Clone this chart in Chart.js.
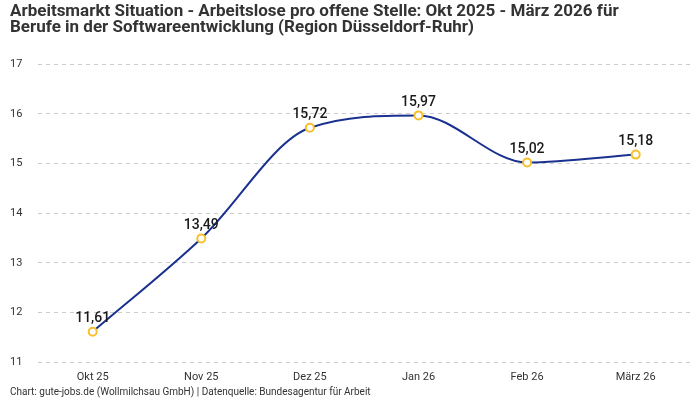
<!DOCTYPE html>
<html>
<head>
<meta charset="utf-8">
<script src="https://cdn.jsdelivr.net/npm/chart.js@4/dist/chart.umd.min.js"></script>
<style>
  html, body { margin: 0; padding: 0; background: #fff; }
  #wrap { width: 700px; height: 400px; }
</style>
</head>
<body>
<div id="wrap"><canvas id="arbeitsmarktChart"></canvas></div>
<script>
const months = ['Okt 25', 'Nov 25', 'Dez 25', 'Jan 26', 'Feb 26', 'März 26'];
const arbeitslosePerStelle = [11.61, 13.49, 15.72, 15.97, 15.02, 15.18];
const yTicks = [11, 12, 13, 14, 15, 16, 17];

const fontFamily = 'Roboto, "Noto Sans", sans-serif';

// draws the value above every point (German decimal comma)
const valueLabels = {
  id: 'valueLabels',
  afterDatasetsDraw(chart) {
    const ctx = chart.ctx;
    const meta = chart.getDatasetMeta(0);
    ctx.save();
    ctx.font = '500 14px ' + fontFamily;
    ctx.fillStyle = '#1a1a1a';
    ctx.textAlign = 'center';
    ctx.textBaseline = 'bottom';
    meta.data.forEach((pt, i) => {
      const txt = arbeitslosePerStelle[i].toFixed(2).replace('.', ',');
      ctx.fillText(txt, pt.x, pt.y - 6);
    });
    ctx.restore();
  }
};

new Chart(document.getElementById('arbeitsmarktChart'), {
  type: 'line',
  data: {
    labels: months,
    datasets: [{
      data: arbeitslosePerStelle,
      borderColor: '#1b3190',
      borderWidth: 2,
      cubicInterpolationMode: 'monotone',
      pointBackgroundColor: '#ffffff',
      pointBorderColor: '#f6c02c',
      pointBorderWidth: 2,
      pointRadius: 4,
      fill: false
    }]
  },
  options: {
    responsive: true,
    maintainAspectRatio: false,
    animation: false,
    layout: { padding: { left: 10, right: 10, top: 0, bottom: 3 } },
    plugins: {
      legend: { display: false },
      tooltip: { enabled: false },
      title: {
        display: true,
        align: 'start',
        text: ['Arbeitsmarkt Situation - Arbeitslose pro offene Stelle: Okt 2025 - März 2026 für',
               'Berufe in der Softwareentwicklung (Region Düsseldorf-Ruhr)'],
        color: '#333333',
        font: { family: fontFamily, size: 17, weight: 'bold', lineHeight: 0.95 },
        padding: { top: 4, bottom: 28 }
      },
      subtitle: {
        display: true,
        position: 'bottom',
        align: 'start',
        text: 'Chart: gute-jobs.de (Wollmilchsau GmbH) | Datenquelle: Bundesagentur für Arbeit',
        color: '#333333',
        font: { family: fontFamily, size: 10, lineHeight: 1.0 },
        padding: { top: 2, bottom: 0 }
      }
    },
    scales: {
      x: {
        offset: true,
        grid: { display: false },
        border: { display: false },
        ticks: { color: '#333333', font: { family: fontFamily, size: 11, lineHeight: 1.0 }, padding: 2 }
      },
      y: {
        min: 11,
        max: 17,
        afterBuildTicks(axis) { axis.ticks = yTicks.map(v => ({ value: v })); },
        grid: { color: '#cccccc', drawTicks: false },
        border: { display: false, dash: [4, 4] },
        ticks: {
          color: '#333333',
          font: { family: fontFamily, size: 11 },
          crossAlign: 'far',
          padding: 8,
          callback: v => String(v)
        }
      }
    }
  },
  plugins: [valueLabels]
});
</script>
</body>
</html>
